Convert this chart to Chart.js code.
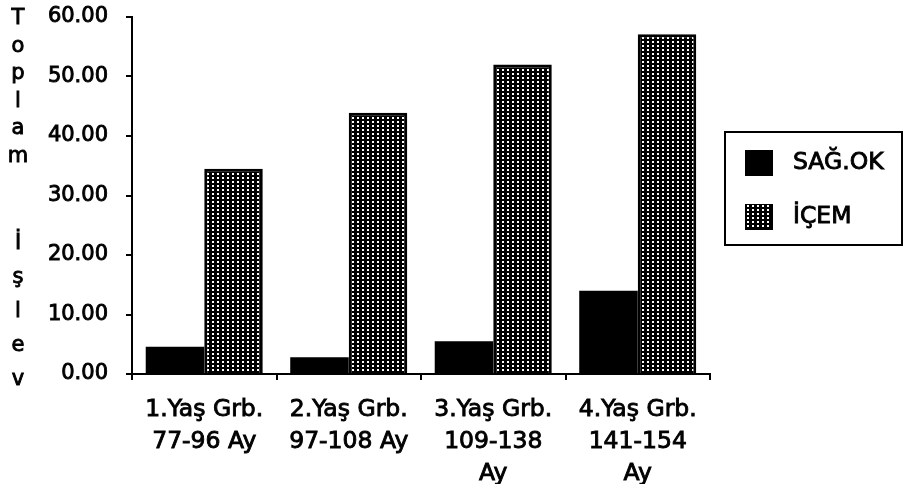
<!DOCTYPE html>
<html>
<head>
<meta charset="utf-8">
<script src="https://cdn.jsdelivr.net/npm/chart.js@4/dist/chart.umd.min.js"></script>
<style>
  html, body { margin: 0; padding: 0; background: #fff; }
  canvas { display: block; }
</style>
</head>
<body>
<canvas id="c" width="905" height="487"></canvas>
<script>
// Age groups (multi-line category labels)
const categories = [
  ['1.Yaş Grb.', '77-96 Ay'],
  ['2.Yaş Grb.', '97-108 Ay'],
  ['3.Yaş Grb.', '109-138', 'Ay'],
  ['4.Yaş Grb.', '141-154', 'Ay']
];
const seriesNames = ['SAĞ.OK', 'İÇEM'];
const sagOk = [4.6, 2.8, 5.5, 14.0];
const icem = [34.5, 43.9, 52.0, 57.1];
const yTicks = [0, 10, 20, 30, 40, 50, 60];
const axisTitleWords = ['Toplam', 'İşlev'];

const FONT = "'DejaVu Sans', Verdana, sans-serif";
const STROKE = 0.9;

// Dotted fill: black ground with a grid of white dots
function dotPattern() {
  const t = document.createElement('canvas');
  t.width = 5; t.height = 4;
  const g = t.getContext('2d');
  g.fillStyle = '#000';
  g.fillRect(0, 0, 5, 4);
  g.fillStyle = '#fff';
  g.fillRect(2, 1, 2, 2);
  return g.createPattern(t, 'repeat');
}

const ctx = document.getElementById('c').getContext('2d');
const dots = dotPattern();

function heavyText(c, text, x, y) {
  c.fillText(text, x, y);
  c.strokeText(text, x, y);
}

// Vertical, letter-by-letter axis title on the far left
const stackedTitle = {
  id: 'stackedTitle',
  afterDraw(chart) {
    const c = chart.ctx;
    const area = chart.chartArea;
    c.save();
    c.fillStyle = '#000';
    c.strokeStyle = '#000';
    c.lineWidth = STROKE;
    c.font = '21px ' + FONT;
    c.textAlign = 'center';
    c.textBaseline = 'middle';
    const x = 18;
    const first = axisTitleWords[0].split('');
    const second = axisTitleWords[1].split('');
    const step1 = 27.5, step2 = 34;
    first.forEach((ch, i) => heavyText(c, ch, x, area.top + 2 + i * step1));
    const bottom = area.bottom + 6;
    second.forEach((ch, i) => heavyText(c, ch, x, bottom - (second.length - 1 - i) * step2));
    c.restore();
  }
};

// Boxed legend to the right of the plot
const boxedLegend = {
  id: 'boxedLegend',
  afterDraw(chart) {
    const c = chart.ctx;
    const bx = 725, by = 132, bw = 177, bh = 113;
    c.save();
    c.strokeStyle = '#000';
    c.lineWidth = 2;
    c.strokeRect(bx, by, bw, bh);
    c.font = '23.5px ' + FONT;
    c.textBaseline = 'middle';
    c.textAlign = 'left';
    chart.data.datasets.forEach((ds, i) => {
      const sy = 150 + i * 54;
      c.fillStyle = ds.backgroundColor;
      c.fillRect(745, sy, 28, 26);
      c.strokeStyle = '#000';
      c.lineWidth = 1;
      c.strokeRect(745.5, sy + 0.5, 27, 25);
      c.fillStyle = '#000';
      c.lineWidth = STROKE;
      heavyText(c, ds.label, 793, sy + 13);
    });
    c.restore();
  }
};

new Chart(ctx, {
  type: 'bar',
  data: {
    labels: categories,
    datasets: [
      {
        label: seriesNames[0],
        data: sagOk,
        backgroundColor: '#000',
        borderColor: '#000',
        borderWidth: 0
      },
      {
        label: seriesNames[1],
        data: icem,
        backgroundColor: dots,
        borderColor: '#000',
        borderWidth: 3
      }
    ]
  },
  options: {
    responsive: false,
    animation: false,
    events: [],
    layout: { padding: { left: 40, right: 195, top: 17, bottom: 3 } },
    datasets: { bar: { categoryPercentage: 0.81, barPercentage: 1.0 } },
    plugins: {
      legend: { display: false },
      tooltip: { enabled: false },
      title: { display: false }
    },
    scales: {
      x: {
        offset: true,
        afterFit(scale) { scale.height = 110; },
        grid: {
          offset: true,
          drawOnChartArea: false,
          drawTicks: true,
          tickLength: 6,
          color: '#000',
          lineWidth: 2
        },
        border: { display: true, color: '#000', width: 2 },
        ticks: {
          color: '#000',
          textStrokeColor: '#000',
          textStrokeWidth: STROKE,
          font: { family: FONT, size: 23.5, lineHeight: 1.36 },
          padding: 14,
          autoSkip: false,
          maxRotation: 0,
          minRotation: 0
        }
      },
      y: {
        min: 0,
        max: 60,
        afterFit(scale) {
          scale.width = 92;
          scale.paddingTop = 0;
          scale.paddingBottom = 0;
        },
        afterBuildTicks(scale) {
          scale.ticks = yTicks.map(v => ({ value: v }));
        },
        grid: {
          drawOnChartArea: false,
          drawTicks: true,
          tickLength: 6,
          color: '#000',
          lineWidth: 2
        },
        border: { display: true, color: '#000', width: 2 },
        ticks: {
          color: '#000',
          textStrokeColor: '#000',
          textStrokeWidth: STROKE,
          font: { family: FONT, size: 21 },
          padding: 18,
          callback: v => Number(v).toFixed(2)
        }
      }
    }
  },
  plugins: [stackedTitle, boxedLegend]
});
</script>
</body>
</html>
